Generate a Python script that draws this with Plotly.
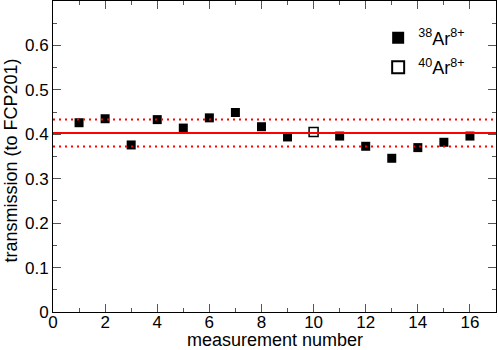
import plotly.graph_objects as go

# measurement data
meas_38 = [1, 2, 3, 4, 5, 6, 7, 8, 9, 11, 12, 13, 14, 15, 16]
trans_38 = [0.426, 0.435, 0.376, 0.433, 0.414, 0.437, 0.449, 0.417, 0.394,
            0.396, 0.373, 0.346, 0.370, 0.382, 0.396]
meas_40 = [10]
trans_40 = [0.405]

mean_val = 0.403
band_hi = 0.433
band_lo = 0.3725

font = "Liberation Sans, Arial, sans-serif"

fig = go.Figure()
fig.add_trace(go.Scatter(x=meas_38, y=trans_38, mode="markers",
                         name="<sup>38</sup>Ar<sup>8+</sup>", legendgroup="a",
                         marker=dict(symbol="square", size=9, color="black",
                                     line=dict(width=0))))
fig.add_trace(go.Scatter(x=meas_40, y=trans_40, mode="markers",
                         name="<sup>40</sup>Ar<sup>8+</sup>", legendgroup="b",
                         marker=dict(symbol="square-open", size=9, color="black",
                                     line=dict(width=1.5))))

fig.add_hline(y=mean_val, line=dict(color="red", width=2))
fig.add_hline(y=band_hi, line=dict(color="red", width=2, dash="2px,4px"))
fig.add_hline(y=band_lo, line=dict(color="red", width=2, dash="2px,4px"))

axis_common = dict(showline=True, linecolor="black", linewidth=1, mirror="allticks",
                   ticks="inside", ticklen=8, tickcolor="#555", tickwidth=1,
                   showgrid=False, zeroline=False, automargin=False,
                   tickfont=dict(family=font, size=17, color="black"))

fig.update_xaxes(range=[0, 17], dtick=2, tick0=0, ticklabelstandoff=-5,
                 minor=dict(ticks="inside", ticklen=4, dtick=1, tickcolor="#555"),
                 **axis_common)
fig.update_yaxes(range=[0, 0.7], dtick=0.1, tick0=0,
                 minor=dict(ticks="inside", ticklen=4, dtick=0.05, tickcolor="#555"),
                 **axis_common)

# axis titles as annotations so they sit where the original has them
fig.add_annotation(text="measurement number", xref="paper", yref="paper",
                   x=0.5, y=0, xanchor="center", yanchor="bottom", yshift=-40,
                   showarrow=False, font=dict(family=font, size=18, color="black"))
fig.add_annotation(text="transmission (to FCP201)", xref="paper", yref="paper",
                   x=0, y=0.5, xanchor="center", yanchor="middle", xshift=-43, yshift=-4,
                   textangle=-90, showarrow=False,
                   font=dict(family=font, size=18, color="black"))

fig.update_layout(width=498, height=350,
                  margin=dict(l=53, r=2, t=1, b=38),
                  plot_bgcolor="white", paper_bgcolor="white",
                  showlegend=True,
                  legend=dict(x=0.734, y=0.94, xanchor="left", yanchor="top",
                              bgcolor="rgba(0,0,0,0)", tracegroupgap=3,
                              font=dict(family=font, size=18, color="black"),
                              itemsizing="constant"))

# page has default body margin, remove it so the figure sits at the corner
fig.write_html("out.html", config={"displayModeBar": False},
               post_script="document.body.style.margin='0';")
